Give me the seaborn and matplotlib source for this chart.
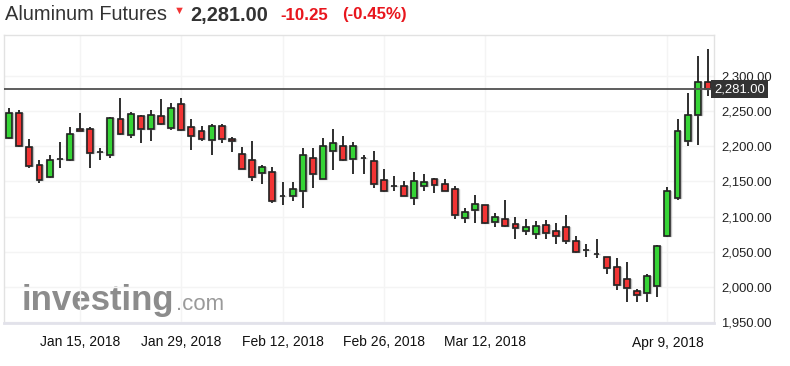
import numpy as np
import seaborn as sns
import matplotlib.pyplot as plt
from matplotlib.ticker import FuncFormatter
import matplotlib.transforms as mtransforms

# daily candles, Jan 4 .. Apr 13 2018 (trading days)
opens = [2212, 2247, 2199, 2174, 2156, 2182, 2180, 2225, 2225, 2192,
         2187, 2238, 2216, 2243, 2225, 2243, 2226, 2260, 2227, 2221,
         2209, 2229, 2211, 2189, 2180, 2162, 2163, 2129, 2129, 2137,
         2184, 2154, 2193, 2200, 2182, 2184, 2179, 2152, 2144, 2144,
         2127, 2143, 2153, 2147, 2140, 2098, 2109, 2116, 2093, 2096,
         2089, 2080, 2075, 2088, 2080, 2085, 2066, 2052, 2047, 2043,
         2029, 2011, 1995, 1991, 2002, 2073, 2126, 2207, 2244, 2291]
highs = [2254, 2251, 2211, 2181, 2187, 2206, 2228, 2247, 2227, 2198,
         2241, 2269, 2248, 2245, 2252, 2267, 2261, 2268, 2238, 2229,
         2231, 2232, 2213, 2199, 2208, 2174, 2170, 2149, 2149, 2198,
         2198, 2212, 2225, 2215, 2206, 2188, 2193, 2167, 2158, 2151,
         2164, 2160, 2155, 2154, 2144, 2112, 2131, 2117, 2105, 2124,
         2100, 2096, 2094, 2095, 2091, 2103, 2072, 2061, 2069, 2043,
         2042, 2036, 1997, 2018, 2060, 2142, 2239, 2275, 2328, 2338]
lows = [2210, 2199, 2169, 2148, 2155, 2169, 2179, 2221, 2169, 2180,
        2184, 2216, 2212, 2205, 2207, 2230, 2223, 2221, 2194, 2207,
        2188, 2205, 2192, 2167, 2151, 2146, 2119, 2116, 2122, 2112,
        2141, 2153, 2166, 2179, 2160, 2161, 2141, 2135, 2136, 2130,
        2117, 2136, 2134, 2137, 2097, 2091, 2091, 2089, 2086, 2086,
        2069, 2074, 2068, 2069, 2061, 2061, 2048, 2043, 2042, 2018,
        1996, 1979, 1979, 1979, 1986, 2071, 2123, 2200, 2202, 2271]
closes = [2247, 2200, 2172, 2152, 2181, 2182, 2218, 2221, 2191, 2192,
          2240, 2217, 2246, 2224, 2244, 2232, 2254, 2223, 2214, 2211,
          2229, 2211, 2207, 2168, 2157, 2170, 2122, 2129, 2139, 2187,
          2161, 2201, 2204, 2180, 2200, 2184, 2147, 2136, 2144, 2130,
          2150, 2149, 2145, 2137, 2102, 2106, 2118, 2091, 2100, 2087,
          2084, 2085, 2087, 2077, 2073, 2066, 2050, 2052, 2047, 2027,
          2003, 1999, 1989, 2016, 2059, 2136, 2221, 2244, 2291, 2281]

date_ticks = [7, 17, 27, 37, 47, 65]
date_labels = ["Jan 15, 2018", "Jan 29, 2018", "Feb 12, 2018",
               "Feb 26, 2018", "Mar 12, 2018", "Apr 9, 2018"]
price_ticks = [1950, 2000, 2050, 2100, 2150, 2200, 2250, 2300]
last_price = 2281.00

GREEN = "#36d436"
RED = "#f23434"


def main():
    sns.set_theme(style="white")
    plt.rcParams["font.family"] = ["Liberation Sans", "DejaVu Sans"]

    o = np.array(opens, dtype=float)
    h = np.array(highs, dtype=float)
    l = np.array(lows, dtype=float)
    c = np.array(closes, dtype=float)
    x = np.arange(len(o))

    colors = np.where(c > o, GREEN, np.where(c < o, RED, "#222222"))
    bottoms = np.minimum(o, c)
    heights = np.abs(c - o)

    fig = plt.figure(figsize=(7.9, 3.66), dpi=100)
    ax = fig.add_axes([4 / 790, 43 / 366, 710 / 790, 288 / 366])

    # watermark
    ax.text(18 / 710, 13 / 288, "investing", transform=ax.transAxes,
            fontsize=25, fontweight="heavy", color="#8c8c8c", zorder=0)
    ax.text(172 / 710, 13 / 288, ".com", transform=ax.transAxes,
            fontsize=16, color="#9a9a9a", zorder=0)

    # wicks, body halo, bodies
    ax.vlines(x, l, h, color="#1e1e1e", linewidth=1.3, zorder=2)
    ax.bar(x, heights, bottom=bottoms, width=0.76, color="none",
           edgecolor="#9a9a9a", linewidth=1.0, alpha=0.6, zorder=2.5)
    ax.bar(x, heights, bottom=bottoms, width=0.58, color=colors,
           edgecolor="#222222", linewidth=1.2, zorder=3)

    ax.axhline(last_price, color="#505050", linewidth=1.3, zorder=4)
    trans = mtransforms.blended_transform_factory(ax.transAxes, ax.transData)
    ax.text(1.0, last_price, f"{last_price:,.2f}", transform=trans,
            ha="left", va="center", color="white", fontsize=9.4,
            bbox=dict(boxstyle="square,pad=0.25", facecolor="#333333",
                      edgecolor="none"), zorder=5, clip_on=False)

    ax.set_xlim(-0.5, 69.6)
    ax.set_ylim(1949, 2358)

    ax.set_xticks(date_ticks)
    ax.set_xticklabels(date_labels)
    ax.set_yticks(price_ticks)
    ax.yaxis.set_major_formatter(FuncFormatter(lambda v, p: f"{v:,.2f}"))
    ax.yaxis.tick_right()
    ax.tick_params(axis="y", length=0, pad=5, labelsize=9.4, labelcolor="#222222")
    ax.tick_params(axis="x", length=0, pad=9, labelsize=10, labelcolor="#111111")

    ax.grid(True, color="#f4f4f4", linewidth=1)
    ax.set_axisbelow(True)
    for side in ["top", "left", "right"]:
        ax.spines[side].set_color("#e2e2e2")
        ax.spines[side].set_linewidth(1)
    ax.spines["bottom"].set_color("#e2e2ea")
    ax.spines["bottom"].set_linewidth(2)

    # header
    fig.text(5 / 790, 1 - 15 / 366, "Aluminum Futures", fontsize=14.4,
             color="#333333", va="center")
    fig.text(179 / 790, 1 - 11 / 366, "▼", fontsize=8, color=RED,
             ha="center", va="center")
    fig.text(190 / 790, 1 - 15 / 366, f"{last_price:,.2f}", fontsize=14.4,
             fontweight="bold", color="#333333", va="center")
    fig.text(280 / 790, 1 - 15 / 366, "-10.25", fontsize=12.2,
             fontweight="bold", color="#e8161d", va="center")
    fig.text(342 / 790, 1 - 15 / 366, "(-0.45%)", fontsize=12.2,
             fontweight="bold", color="#e8161d", va="center")

    fig.savefig("out.png", dpi=100)


if __name__ == "__main__":
    main()
